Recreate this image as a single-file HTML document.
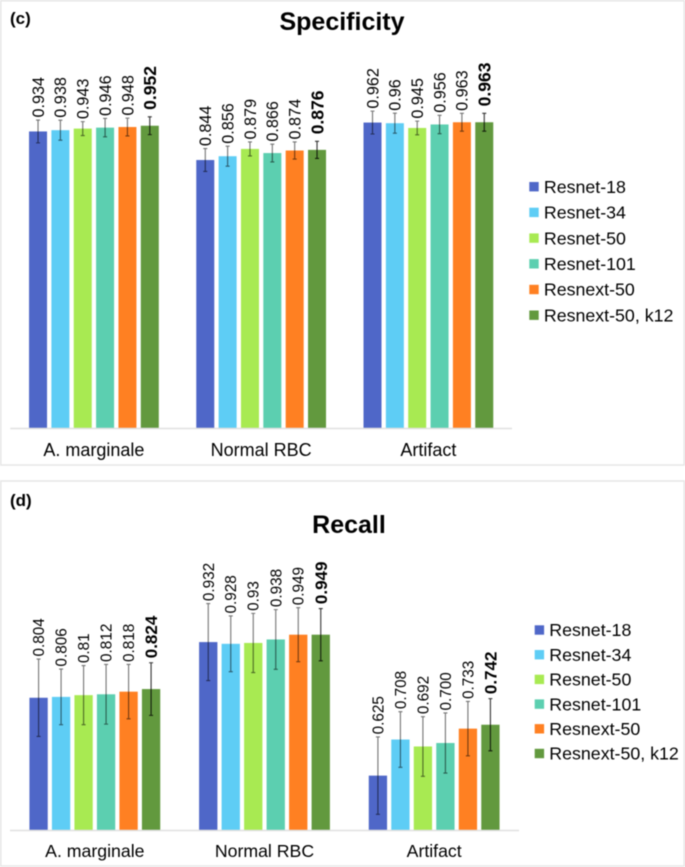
<!DOCTYPE html>
<html lang="en">
<head>
<meta charset="utf-8">
<title>Specificity and Recall</title>
<style>
html,body{margin:0;padding:0;background:#fff;}
svg{display:block;font-family:"Liberation Sans",sans-serif;filter:blur(0.4px);}
</style>
</head>
<body>
<svg id="root" xmlns="http://www.w3.org/2000/svg" width="685" height="867" viewBox="0 0 685 867"></svg>
<script>
const categories = ["A. marginale", "Normal RBC", "Artifact"];
const seriesNames = ["Resnet-18", "Resnet-34", "Resnet-50", "Resnet-101", "Resnext-50", "Resnext-50, k12"];
const seriesColors = ["#4f67c8", "#5ecdf5", "#a8ea52", "#5ccfb0", "#ff8022", "#62993e"];

const specificityValues = [
  [0.934, 0.938, 0.943, 0.946, 0.948, 0.952],
  [0.844, 0.856, 0.879, 0.866, 0.874, 0.876],
  [0.962, 0.96, 0.945, 0.956, 0.963, 0.963]
];
const specificityErrors = [
  [0.036, 0.0315, 0.022, 0.029, 0.028, 0.028],
  [0.036, 0.0315, 0.022, 0.028, 0.027, 0.027],
  [0.036, 0.0315, 0.0215, 0.029, 0.028, 0.028]
];
const specificityLabels = [
  ["0.934", "0.938", "0.943", "0.946", "0.948", "0.952"],
  ["0.844", "0.856", "0.879", "0.866", "0.874", "0.876"],
  ["0.962", "0.96", "0.945", "0.956", "0.963", "0.963"]
];

const recallValues = [
  [0.804, 0.806, 0.81, 0.812, 0.818, 0.824],
  [0.932, 0.928, 0.93, 0.938, 0.949, 0.949],
  [0.625, 0.708, 0.692, 0.700, 0.733, 0.742]
];
const recallErrors = [
  [0.089, 0.064, 0.068, 0.0686, 0.0625, 0.0605],
  [0.0885, 0.064, 0.068, 0.0686, 0.062, 0.06],
  [0.089, 0.064, 0.0686, 0.069, 0.0625, 0.06]
];
const recallLabels = [
  ["0.804", "0.806", "0.81", "0.812", "0.818", "0.824"],
  ["0.932", "0.928", "0.93", "0.938", "0.949", "0.949"],
  ["0.625", "0.708", "0.692", "0.700", "0.733", "0.742"]
];

const NS = "http://www.w3.org/2000/svg";
const root = document.getElementById("root");

function make(parent, tag, attrs, text) {
  const el = document.createElementNS(NS, tag);
  for (const k in attrs) el.setAttribute(k, attrs[k]);
  if (text !== undefined) el.textContent = text;
  parent.appendChild(el);
  return el;
}

function drawChart(cfg) {
  const g = make(root, "g", {});
  
  

  const panel = make(g, "rect", {x: 0.75, y: cfg.panelTop, width: 683.5, height: cfg.panelBottom - cfg.panelTop, fill: "#fff", stroke: "#e6e6e6", "stroke-width": 1.5});
  
  

  const tag = make(g, "text", {x: 10, y: cfg.tagY, "font-size": 17, "font-weight": "bold", fill: "#000"}, cfg.tag);
  
  

  const title = make(g, "text", {x: cfg.titleX, y: cfg.titleY, "font-size": 25, "font-weight": "bold", "text-anchor": "middle", fill: "#000"}, cfg.title);
  
  

  const yScale = v => cfg.baseY - (v - cfg.yMin) * cfg.pxPerUnit;
  const band = (cfg.axisEnd - cfg.axisStart) / categories.length;
  const bandCenter = c => cfg.axisStart + band * (c + 0.5) + cfg.centerShift;
  const xScale = (c, s) => bandCenter(c) + (s - (seriesNames.length - 1) / 2) * cfg.barStep;

  categories.forEach((cat, c) => {
    seriesNames.forEach((name, s) => {
      const value = cfg.values[c][s];
      const err = cfg.errors[c][s];
      const cx = xScale(c, s);
      const top = yScale(value);
      const errTop = yScale(value + err);
      const errBottom = yScale(value - err);
      const last = s === seriesNames.length - 1;

      const bar = make(g, "rect", {x: cx - cfg.barW / 2, y: top, width: cfg.barW, height: cfg.baseY - top, fill: seriesColors[s]});
      
      

      const err1 = make(g, "path", {
        d: "M" + cx + " " + errTop + "V" + errBottom + "M" + (cx - 2) + " " + errTop + "H" + (cx + 2) + "M" + (cx - 2) + " " + errBottom + "H" + (cx + 2),
        fill: "none", stroke: "#000", "stroke-width": 1.1, "stroke-opacity": last ? 0.8 : 0.55
      });
      
      

      const lx = cx + (last ? cfg.labelBoldSize : cfg.labelSize) * 0.36;
      const ly = errTop - (last ? cfg.boldGap : cfg.labelGap);
      const label = make(g, "text", {
        x: lx, y: ly, transform: "rotate(-90 " + lx + " " + ly + ")",
        "font-size": last ? cfg.labelBoldSize : cfg.labelSize,
        "font-weight": last ? "bold" : "normal",
        fill: "#000"
      }, cfg.labels[c][s]);
      
      
    });

    const catLabel = make(g, "text", {x: bandCenter(c), y: cfg.catY, "font-size": cfg.catSize, "text-anchor": "middle", fill: "#000"}, cat);
    
    
  });

  const axis = make(g, "line", {x1: cfg.axisStart, x2: cfg.axisEnd, y1: cfg.baseY + 0.5, y2: cfg.baseY + 0.5, stroke: "#e0e0e0", "stroke-width": 1.5});
  
  

  seriesNames.forEach((name, s) => {
    const y = cfg.legendY + s * cfg.legendStep;
    const swatch = make(g, "rect", {x: cfg.legendX, y: y - 4.7, width: 9.4, height: 9.4, fill: seriesColors[s]});
    
    
    const text = make(g, "text", {x: cfg.legendX + 14.6, y: y + 6.2, "font-size": 17.8, fill: "#000"}, name);
    
    
  });
}

drawChart({
  key: "specificity", tag: "(c)", title: "Specificity",
  values: specificityValues, errors: specificityErrors, labels: specificityLabels,
  panelTop: 0.75, panelBottom: 465, tagY: 24, titleX: 342, titleY: 30,
  baseY: 428, yMin: 0, pxPerUnit: 317.5,
  axisStart: 10.3, axisEnd: 512, centerShift: 0, barStep: 22.35, barW: 18,
  labelSize: 16.2, labelBoldSize: 17.5, labelGap: 2.5, boldGap: 7,
  catY: 456, catSize: 18,
  legendX: 529.3, legendY: 186.7, legendStep: 25.7
});

drawChart({
  key: "recall", tag: "(d)", title: "Recall",
  values: recallValues, errors: recallErrors, labels: recallLabels,
  panelTop: 481, panelBottom: 866, tagY: 506, titleX: 349, titleY: 533,
  baseY: 830, yMin: 0.5, pxPerUnit: 435,
  axisStart: 10, axisEnd: 519, centerShift: 0, barStep: 22.5, barW: 18.3,
  labelSize: 15.3, labelBoldSize: 17, labelGap: 2.5, boldGap: 4.5,
  catY: 857, catSize: 17.7,
  legendX: 534.7, legendY: 630, legendStep: 24.7
});
</script>
</body>
</html>
